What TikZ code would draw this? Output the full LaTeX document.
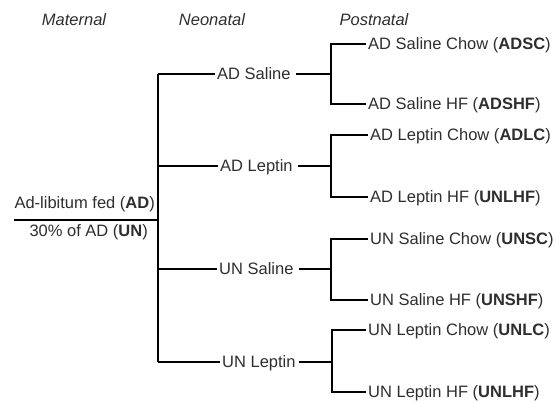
\documentclass[tikz,border=0pt]{standalone}
\usepackage{fontspec}
\setmainfont{Liberation Sans}
\usetikzlibrary{positioning, calc}
\tikzset{
every node/.style={font=\fontsize{16.5}{20}\selectfont, text=black!82, inner sep=2pt, text height=11.8pt, text depth=0pt}, % same box for every label
head/.style={font=\fontsize{16.5}{20}\selectfont\itshape}, % column titles
group/.style={anchor=west}, % neonatal and postnatal labels
branch/.style={line width=1.3pt}, % thin connectors
trunk/.style={line width=2.8pt}, % the main vertical line
}

\begin{document}
\begin{tikzpicture}[x=1pt, y=-1pt]
      \useasboundingbox (0,0) rectangle (556,403);
      % column titles
      \node[head] (mat) at (74,20) {Maternal};
      \node[head] (neo) at (212,20) {Neonatal};
      \node[head] (post) at (374,20) {Postnatal};
      % maternal groups
      \node[anchor=east] (ad) at (157,203) {Ad-libitum fed (\textbf{AD})};
      \node[anchor=east] (un) at (150,231) {30\% of AD (\textbf{UN})};
      \coordinate (sl) at (14,220);
      \coordinate (sr) at (158,220);
      \draw[line width=1.8pt] (sl) -- (sr);
      % neonatal groups
      \node[group] (ads) at (215,74) {AD Saline};
      \node[group] (adl) at (218,166) {AD Leptin};
      \node[group] (uns) at (217,269) {UN Saline};
      \node[group] (unl) at (220,362) {UN Leptin};
      \coordinate (top) at (158,74);
      \coordinate (bot) at (158,362);
      \draw[trunk] (top) -- (bot);
      \draw[branch] (top) -- (ads.west)
      (adl.west -| top) -- (adl.west)
      (uns.west -| top) -- (uns.west)
      (bot) -- (unl.west);
      % postnatal groups
      \node[group] (adsc) at (366,44) {AD Saline Chow (\textbf{ADSC})};
      \node[group] (adshf) at (366,104) {AD Saline HF (\textbf{ADSHF})};
      \node[group] (adlc) at (368,135) {AD Leptin Chow (\textbf{ADLC})};
      \node[group] (adlhf) at (368,197) {AD Leptin HF (\textbf{UNLHF})};
      \node[group] (unsc) at (368,239) {UN Saline Chow (\textbf{UNSC})};
      \node[group] (unshf) at (368,300) {UN Saline HF (\textbf{UNSHF})};
      \node[group] (unlc) at (366,330) {UN Leptin Chow (\textbf{UNLC})};
      \node[group] (unlhf) at (366,392) {UN Leptin HF (\textbf{UNLHF})};
      \coordinate (jads) at (331,74);
      \coordinate (jadl) at (331,166);
      \coordinate (juns) at (331,269);
      \coordinate (junl) at (332,362);
      \draw[branch, shorten <=3pt] (ads.east) -- (jads);
      \draw[branch, shorten <=3pt] (adl.east) -- (jadl);
      \draw[branch, shorten <=3pt] (uns.east) -- (juns);
      \draw[branch, shorten <=1pt] (unl.east) -- (junl);
      \draw[branch] (adsc.west) -| (jads) |- (adshf.west);
      \draw[branch] (adlc.west) -| (jadl) |- (adlhf.west);
      \draw[branch] (unsc.west) -| (juns) |- (unshf.west);
      \draw[branch] (unlc.west) -| (junl) |- (unlhf.west);
    \end{tikzpicture}
\end{document}
